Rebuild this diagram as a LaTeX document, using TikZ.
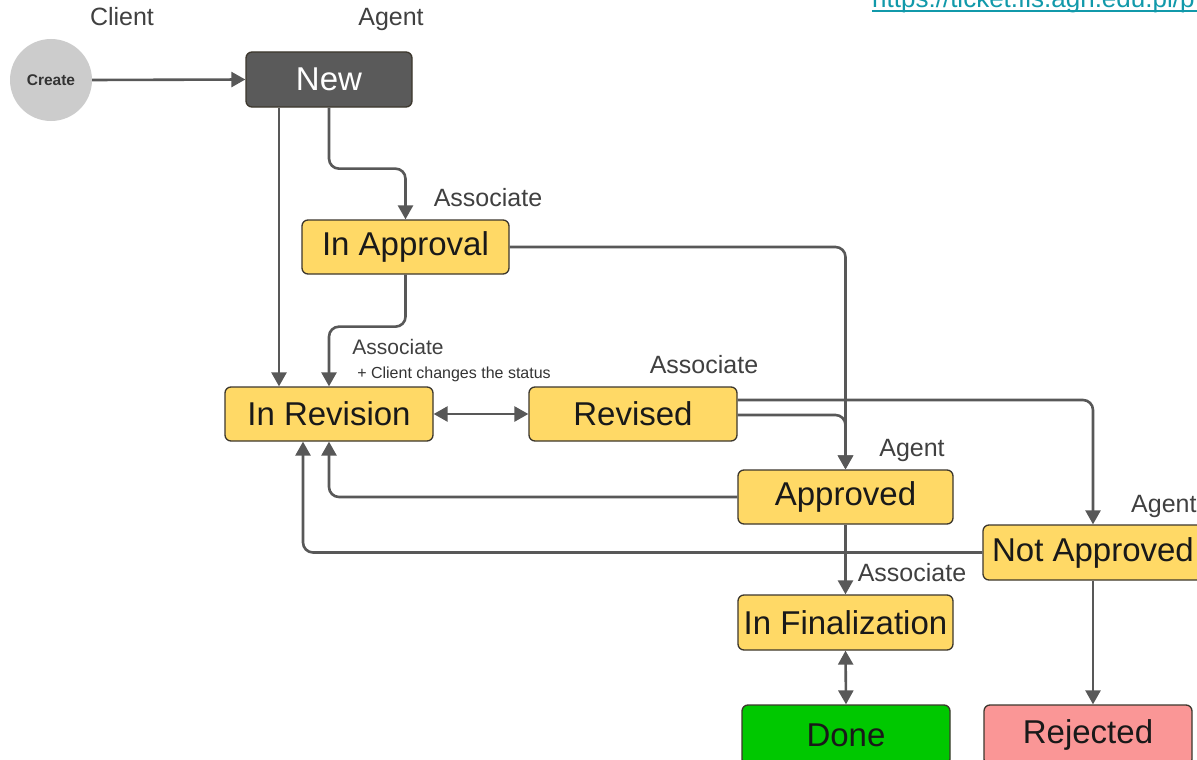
\documentclass[tikz,border=0pt]{standalone}
\usepackage{fontspec}
\setmainfont{Liberation Sans}
\usetikzlibrary{arrows.meta}
\definecolor{ylw}{RGB}{255,217,102}
\definecolor{edge}{RGB}{88,88,88}
\definecolor{bord}{RGB}{60,55,45}
\definecolor{newgray}{RGB}{90,90,90}
\definecolor{crgray}{RGB}{204,204,204}
\definecolor{okgreen}{RGB}{0,200,0}
\definecolor{rejpink}{RGB}{250,150,150}
\definecolor{urlc}{RGB}{17,153,170}
\tikzset{
  state/.style={draw=bord, line width=1.3pt, rounded corners=6pt, inner sep=0pt,
    font=\fontsize{33}{36}\selectfont, text=black!90},
  ystate/.style={state, fill=ylw},
  arr/.style={draw=edge, line width=2.6pt, rounded corners=10pt,
    -{Triangle[length=14pt,width=15pt]}},
  darr/.style={draw=edge, line width=2.6pt,
    {Triangle[length=14pt,width=15pt]}-{Triangle[length=14pt,width=15pt]}},
  lbl/.style={font=\fontsize{25}{28}\selectfont, text=black!75, inner sep=0pt},
  small/.style={font=\fontsize{16}{18}\selectfont, text=black!80, inner sep=0pt}
}
\begin{document}
\begin{tikzpicture}[x=1pt,y=-1pt]
\useasboundingbox (0,0) rectangle (1197,760);
\clip (0,0) rectangle (1197,760);
\fill[white] (0,0) rectangle (1197,760);

% nodes
\node[circle, fill=crgray, minimum size=82pt, inner sep=0pt,
  font=\fontsize{15.5}{17}\selectfont\bfseries, text=black!80] (create) at (51,80) {Create};
\node[state, fill=newgray, text=white, minimum width=166pt, minimum height=55pt] (new) at (329,79.5) {New};
\node[ystate, minimum width=207pt, minimum height=54pt] (appr) at (405.5,247) {In Approval};
\node[ystate, minimum width=208pt, minimum height=54pt] (rev) at (329,414) {In Revision};
\node[ystate, minimum width=208pt, minimum height=54pt] (rvd) at (633,414) {Revised};
\node[ystate, minimum width=215pt, minimum height=54pt] (apv) at (845.5,497) {Approved};
\node[ystate, minimum width=220pt, minimum height=55pt] (nap) at (1093,552.5) {Not Approved};
\node[ystate, minimum width=215pt, minimum height=55pt] (fin) at (845.5,622.5) {In Finalization};
\node[state, fill=okgreen, minimum width=208pt, minimum height=60pt] (done) at (846,735) {Done};
\node[state, fill=rejpink, minimum width=208pt, minimum height=60pt] (rej) at (1088,735) {Rejected};

% labels
\node[lbl, anchor=base] (lclient) at (122,26) {Client};
\node[lbl, anchor=base] (lagent) at (391,26) {Agent};
\node[lbl, anchor=base] (las1) at (488,206) {Associate};
\node[lbl, anchor=base, font=\fontsize{21}{24}\selectfont] (las2) at (398,354) {Associate};
\node[small, anchor=base] (lcl) at (454,378) {+ Client changes the status};
\node[lbl, anchor=base] (las3) at (704,373) {Associate};
\node[lbl, anchor=base] (lag2) at (912,456) {Agent};
\node[lbl, anchor=base west] (lag3) at (1131,512) {Agent};
\node[lbl, anchor=base] (las4) at (912,581) {Associate};
\node[anchor=base west, inner sep=0pt, text=urlc, font=\fontsize{26}{28}\selectfont] (url) at (872,8) {https://ticket.fis.agh.edu.pl/p};
\draw[urlc, line width=2pt] ([yshift=-3pt]url.base west) -- ([yshift=-3pt,xshift=40pt]url.base east);

% connectors
\draw[arr] (create.east) -- (new.west);
\draw[arr] ([xshift=-50pt]new.south) -- ([xshift=-50pt]rev.north);
\draw[arr] (new.south) -- ++(0,61) -| (appr.north);
\draw[arr] (appr.east) -| (apv.north);
\draw[arr] (appr.south) -- ++(0,52) -| (rev.north);
\draw[darr] (rev.east) -- (rvd.west);
\draw[arr] ([yshift=-1pt]rvd.east) -| (apv.north);
\draw[arr] ([yshift=14pt]rvd.east) -| (nap.north);
\draw[arr] (apv.west) -| (rev.south);
\draw[arr] (nap.west) -| ([xshift=-26pt]rev.south);
\draw[arr] (apv.south) -- (fin.north);
\draw[darr] (fin.south) -- (done.north);
\draw[arr] (nap.south) -- (nap.south |- rej.north);
\end{tikzpicture}
\end{document}
